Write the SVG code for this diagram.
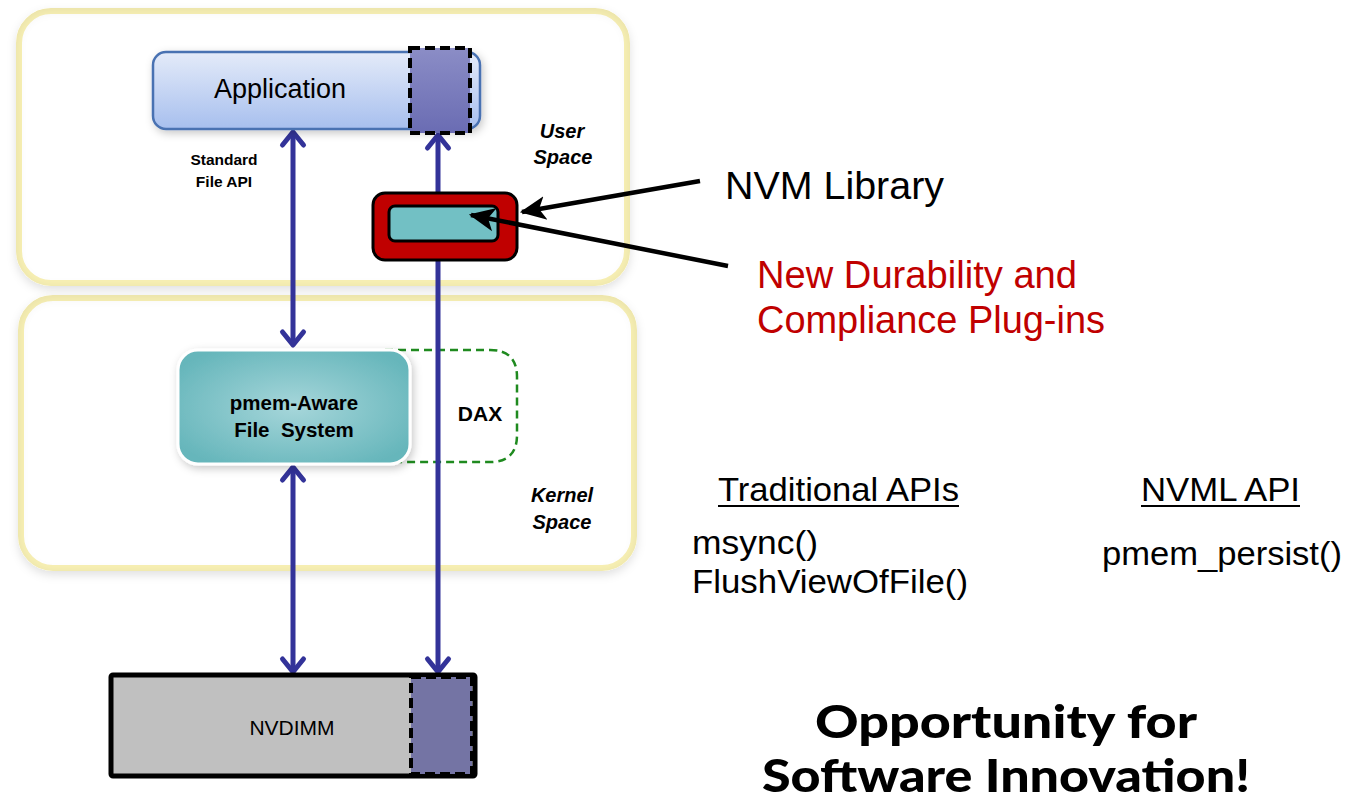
<svg xmlns="http://www.w3.org/2000/svg" width="1353" height="804" viewBox="0 0 1353 804">
  <defs>
    <linearGradient id="appFill" x1="0" y1="0" x2="0" y2="1">
      <stop offset="0" stop-color="#e4ebf9"/>
      <stop offset="1" stop-color="#a7bfee"/>
    </linearGradient>
    <linearGradient id="mapFill" x1="0" y1="0" x2="0" y2="1">
      <stop offset="0" stop-color="#8b8dc6"/>
      <stop offset="1" stop-color="#6a6cb3"/>
    </linearGradient>
    <radialGradient id="fsFill" cx="0.5" cy="0.5" r="0.6">
      <stop offset="0" stop-color="#a6d6da"/>
      <stop offset="1" stop-color="#66b6bb"/>
    </radialGradient>
    <filter id="soft" x="-10%" y="-10%" width="120%" height="130%">
      <feDropShadow dx="2" dy="3" stdDeviation="4" flood-color="#000" flood-opacity="0.22"/>
    </filter>
    <filter id="panelShade" x="-5%" y="-5%" width="110%" height="112%">
      <feGaussianBlur in="SourceAlpha" stdDeviation="6" result="b"/>
      <feOffset dx="0" dy="2" in="b" result="o"/>
      <feComposite in="o" in2="SourceAlpha" operator="arithmetic" k2="-1" k3="1" result="inner"/>
      <feFlood flood-color="#000" flood-opacity="0.16"/>
      <feComposite in2="inner" operator="in" result="shade"/>
      <feGaussianBlur in="SourceAlpha" stdDeviation="5" result="ob"/>
      <feOffset in="ob" dx="0" dy="4" result="oo"/>
      <feFlood flood-color="#000" flood-opacity="0.12"/>
      <feComposite in2="oo" operator="in" result="outer"/>
      <feMerge><feMergeNode in="outer"/><feMergeNode in="SourceGraphic"/><feMergeNode in="shade"/></feMerge>
    </filter>
    <!-- open V head; +x is the direction of travel -->
    <marker id="vhead" viewBox="0 0 24 26" refX="21" refY="13" markerWidth="24" markerHeight="26" markerUnits="userSpaceOnUse" orient="auto-start-reverse" overflow="visible">
      <path d="M8 2.5 L21 13 L8 23.5" fill="none" stroke="#333399" stroke-width="5" stroke-linecap="round" stroke-linejoin="round"/>
    </marker>
    <marker id="blackHead" viewBox="0 0 12 12" refX="11" refY="6" markerWidth="26" markerHeight="26" markerUnits="userSpaceOnUse" orient="auto">
      <path d="M0 0.5 L12 6 L0 11.5 L3 6 Z" fill="#000"/>
    </marker>
  </defs>
  <style>
    .panel { fill: #ffffff; stroke: #f8f0b4; stroke-width: 6; }
    .lbl { font-family: "Liberation Sans", Arial, sans-serif; fill: #000; }
    .small { font-size: 15.5px; font-weight: bold; }
    .space { font-size: 20px; font-weight: bold; font-style: italic; }
    .bus { stroke: #333399; stroke-width: 5; fill: none; marker-start: url(#vhead); marker-end: url(#vhead); }
    .call { stroke: #000; stroke-width: 4.5; fill: none; marker-end: url(#blackHead); }
    .big { font-size: 38px; }
    .api { font-size: 34px; }
    .punch { font-family: Lato, "Open Sans", sans-serif; font-weight: 900; font-size: 46px; fill: #000; }
  </style>

  <rect width="1353" height="804" fill="#ffffff"/>

  <!-- layer panels -->
  <g id="user-space">
    <rect class="panel" x="19" y="11" width="608" height="272" rx="32" filter="url(#panelShade)"/>
    <text class="lbl space" x="562" y="138" text-anchor="middle">User</text>
    <text class="lbl space" x="563" y="164" text-anchor="middle">Space</text>
  </g>
  <g id="kernel-space">
    <rect class="panel" x="21" y="298" width="613" height="270" rx="32" filter="url(#panelShade)"/>
    <text class="lbl space" x="562" y="502" text-anchor="middle">Kernel</text>
    <text class="lbl space" x="562" y="529" text-anchor="middle">Space</text>
  </g>

  <!-- DAX bypass region -->
  <g id="dax">
    <path d="M385 350 H490 Q517 350 517 377 V435 Q517 462 490 462 H385" fill="none" stroke="#1f8a1f" stroke-width="2.5" stroke-dasharray="8 5"/>
    <text class="lbl" x="480" y="421" text-anchor="middle" font-size="21" font-weight="bold">DAX</text>
  </g>

  <!-- connectors -->
  <g id="connectors">
    <line class="bus" x1="293" y1="132" x2="293" y2="345"/>
    <line class="bus" x1="438" y1="135" x2="438" y2="672"/>
    <line class="bus" x1="293" y1="467" x2="293" y2="672"/>
  </g>

  <g id="application">
    <rect x="153" y="52" width="327" height="77" rx="13" fill="url(#appFill)" stroke="#4a72b2" stroke-width="2.5" filter="url(#soft)"/>
    <text class="lbl" x="280" y="98" text-anchor="middle" font-size="27">Application</text>
    <rect x="410" y="48" width="60" height="85" fill="url(#mapFill)" stroke="#000" stroke-width="4" stroke-dasharray="10 5"/>
  </g>

  <text class="lbl small" x="224" y="165" text-anchor="middle">Standard</text>
  <text class="lbl small" x="224" y="187" text-anchor="middle">File API</text>

  <g id="nvm-library">
    <rect x="373" y="193" width="144" height="67" rx="12" fill="#c00000" stroke="#000" stroke-width="3"/>
    <rect x="389" y="206" width="109" height="35" rx="6" fill="#72c0c4" stroke="#000" stroke-width="3"/>
  </g>

  <g id="pmem-fs">
    <rect x="178" y="350" width="232" height="114" rx="20" fill="url(#fsFill)" stroke="#ffffff" stroke-width="3" filter="url(#soft)"/>
    <text class="lbl" x="294" y="410" text-anchor="middle" font-size="20.5" font-weight="bold">pmem-Aware</text>
    <text class="lbl" x="294" y="437" text-anchor="middle" font-size="20.5" font-weight="bold" xml:space="preserve">File  System</text>
  </g>

  <g id="nvdimm">
    <rect x="111" y="675" width="364" height="101" fill="#c0c0c0" stroke="#000" stroke-width="5" rx="2"/>
    <rect x="411" y="677" width="61" height="97" fill="#7474a4" stroke="#000" stroke-width="4" stroke-dasharray="10 5"/>
    <text class="lbl" x="292" y="735" text-anchor="middle" font-size="21">NVDIMM</text>
  </g>

  <!-- callouts -->
  <g id="callouts">
    <line class="call" x1="700" y1="181" x2="522" y2="212"/>
    <line class="call" x1="728" y1="266" x2="471" y2="215"/>
    <text class="lbl big" x="725" y="199" textLength="219" lengthAdjust="spacingAndGlyphs">NVM Library</text>
    <text class="lbl big" x="757" y="288" style="fill:#c00000" textLength="320" lengthAdjust="spacingAndGlyphs">New Durability and</text>
    <text class="lbl big" x="757" y="333" style="fill:#c00000" textLength="348" lengthAdjust="spacingAndGlyphs">Compliance Plug-ins</text>
  </g>

  <g id="api-table">
    <text class="lbl api" x="718" y="501" textLength="241" lengthAdjust="spacingAndGlyphs">Traditional APIs</text>
    <line x1="718" y1="506" x2="959" y2="506" stroke="#000" stroke-width="2"/>
    <text class="lbl api" x="1141" y="501" textLength="159" lengthAdjust="spacingAndGlyphs">NVML API</text>
    <line x1="1141" y1="506" x2="1300" y2="506" stroke="#000" stroke-width="2"/>
    <text class="lbl api" x="692" y="554" textLength="126" lengthAdjust="spacingAndGlyphs">msync()</text>
    <text class="lbl api" x="692" y="593" textLength="276" lengthAdjust="spacingAndGlyphs">FlushViewOfFile()</text>
    <text class="lbl api" x="1102" y="565" textLength="240" lengthAdjust="spacingAndGlyphs">pmem_persist()</text>
  </g>

  <g id="tagline">
    <text class="punch" x="1006" y="738" text-anchor="middle" textLength="382" lengthAdjust="spacingAndGlyphs">Opportunity for</text>
    <text class="punch" x="1006" y="792" text-anchor="middle" textLength="488" lengthAdjust="spacingAndGlyphs">Software Innovation!</text>
  </g>
</svg>
